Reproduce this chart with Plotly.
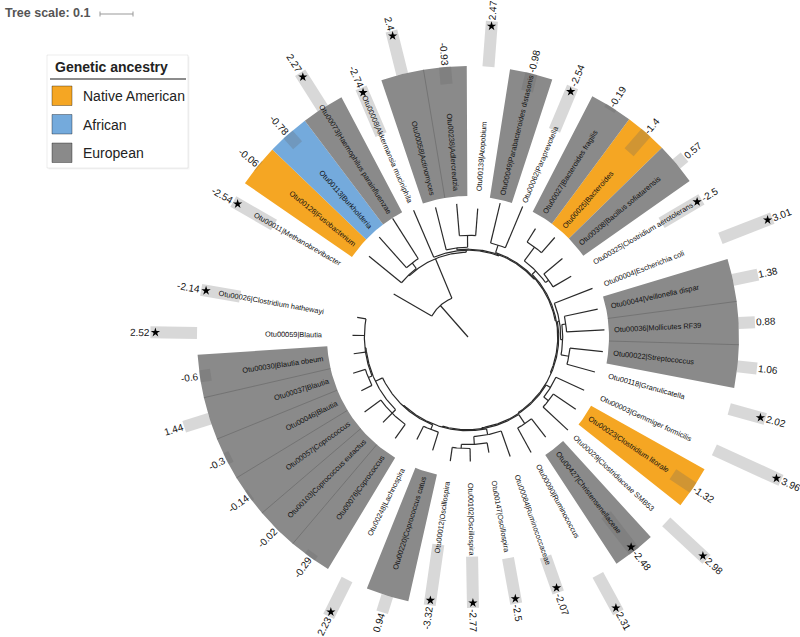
import math
import plotly.graph_objects as go

# ---------------- data ----------------
otu_ids = ["Otu00011", "Otu00128", "Otu00113", "Otu00073", "Otu00008", "Otu00058", "Otu00238",
           "Otu00139", "Otu00049", "Otu00062", "Otu00027", "Otu00025", "Otu00308", "Otu00325",
           "Otu00004", "Otu00044", "Otu00036", "Otu00022", "Otu00118", "Otu00003", "Otu00023",
           "Otu00029", "Otu00427", "Otu00090", "Otu00084", "Otu00147", "Otu00102", "Otu00012",
           "Otu00220", "Otu00248", "Otu00076", "Otu00103", "Otu00057", "Otu00046", "Otu00037",
           "Otu00030", "Otu00059", "Otu00026"]
otu_taxa = ["Methanobrevibacter", "Fusobacterium", "Burkholderia", "Haemophilus parainfluenzae",
            "Akkermansia muciniphila", "Actinomyces", "Adlercreutzia", "Atopobium",
            "Parabacteroides distasonis", "Paraprevotella", "Bacteroides fragilis", "Bacteroides",
            "Bacillus sofiatarensis", "Clostridium aerotolerans", "Escherichia coli",
            "Veillonella dispar", "Mollicutes RF39", "Streptococcus", "Granulicatella",
            "Gemmiger formicilis", "Clostridium litorale", "Clostridiaceae SMB53",
            "Christensenellaceae", "Ruminococcus", "Ruminococcaceae", "Oscillospira",
            "Oscillospira", "Oscillospira", "Coprococcus catus", "Lachnospira", "Coprococcus",
            "Coprococcus eutactus", "Coprococcus", "Blautia", "Blautia", "Blautia obeum",
            "Blautia", "Clostridium hathewayi"]
log_fc = [-2.54, -0.06, -0.78, 2.27, -2.74, 2.4, -0.93, 2.47, -0.98, -2.54, -0.19, -1.4, 0.57,
          -2.5, 3.01, 1.38, 0.88, 1.06, 2.02, 3.96, -1.32, 2.98, -2.48, 2.31, -2.07, -2.5, -2.77,
          -3.32, 0.94, 2.23, -0.29, -0.02, -0.14, -0.3, 1.44, -0.6, 2.52, -2.14]
significant = [1, 0, 0, 1, 1, 1, 0, 1, 0, 1, 0, 0, 0, 1, 1, 0, 0, 0, 1, 1, 0, 1, 1, 1, 1, 1, 1,
               1, 0, 1, 0, 0, 0, 0, 0, 0, 1, 1]
ancestry = ["", "Native American", "African", "European", "", "European", "European", "",
            "European", "", "European", "Native American", "European", "", "", "European",
            "European", "European", "", "", "Native American", "", "European", "", "", "", "",
            "", "European", "", "European", "European", "European", "European", "European",
            "European", "", ""]
ancestry_names = ["Native American", "African", "European"]
ancestry_colors = ["#F5A623", "#74AADC", "#8A8A8A"]
legend_title = "Genetic ancestry"
tree_scale_text = "Tree scale: 0.1"
tree_scale_value = 0.1

# tree topology with branch lengths (tree units)
clade_l9 = ("((Otu00220:0.058,Otu00248:0.045):0.015,((Otu00076:0.052,Otu00103:0.039,Otu00057:0.061):0.015,"
            "((Otu00046:0.036,Otu00037:0.039):0.012,Otu00030:0.036,Otu00059:0.036,Otu00026:0.027):0.003):0.024)")
clade_l8 = "((Otu00084:0.082,(Otu00147:0.030,(Otu00102:0.039,Otu00012:0.042):0.012):0.024):0.018," + clade_l9 + ":0.003)"
clade_l7 = "((Otu00427:0.070,Otu00090:0.085):0.033," + clade_l8 + ":0.003)"
clade_l6 = "((Otu00003:0.094,(Otu00023:0.082,Otu00029:0.103):0.018):0.015," + clade_l7 + ":0.003)"
clade_l5 = ("((Otu00004:0.124,((Otu00044:0.103,Otu00036:0.115):0.012,(Otu00022:0.100,Otu00118:0.088):0.024):0.006):0.006,"
            + clade_l6 + ":0.003)")
clade_l4 = "(((Otu00027:0.048,Otu00025:0.061):0.052,(Otu00308:0.073,Otu00325:0.064):0.012):0.015," + clade_l5 + ":0.003)"
clade_l3 = "((Otu00049:0.124,Otu00062:0.136):0.024," + clade_l4 + ":0.003)"
clade_l2 = "((Otu00058:0.133,(Otu00238:0.097,Otu00139:0.082):0.036):0.006," + clade_l3 + ":0.003)"
clade_l1 = "(Otu00008:0.155," + clade_l2 + ":0.003)"
clade_b = "((Otu00128:0.127,(Otu00113:0.124,Otu00073:0.145):0.021):0.003," + clade_l1 + ":0.006)"
tree_newick = "(Otu00011:0.133," + clade_b + ":0.130):0.127;"

# ---------------- layout parameters ----------------
CX, CY = 468, 337          # tree centre in page pixels
PX_PER_UNIT = 330          # tree scale: 0.1 -> 33 px
START_ANGLE = 150.0
STEP = 9.19
R_WEDGE_IN, R_WEDGE_OUT = 141, 271
R_LABEL = 146
R_BAR0, BAR_K, BAR_W = 271, 18.5, 12
FONT = "Liberation Sans, Arial, sans-serif"


def P(px, py):
    return px - CX, CY - py


def parse_newick(s):
    pos = 0

    def node():
        nonlocal pos
        n = {"children": [], "name": "", "len": 0.0}
        if s[pos] == "(":
            pos += 1
            while True:
                n["children"].append(node())
                if s[pos] == ",":
                    pos += 1
                    continue
                if s[pos] == ")":
                    pos += 1
                    break
        st = pos
        while pos < len(s) and s[pos] not in ":,();":
            pos += 1
        n["name"] = s[st:pos]
        if pos < len(s) and s[pos] == ":":
            pos += 1
            st = pos
            while s[pos] not in ",();":
                pos += 1
            n["len"] = float(s[st:pos])
        return n

    return node()


root = parse_newick(tree_newick)


def assign(n, r_parent):
    n["r"] = r_parent + n["len"] * PX_PER_UNIT
    if not n["children"]:
        i = otu_ids.index(n["name"])
        n["a"] = START_ANGLE - i * STEP
    else:
        for c in n["children"]:
            assign(c, n["r"])
        n["a"] = (n["children"][0]["a"] + n["children"][-1]["a"]) / 2


assign(root, 0.0)
leaf_angle = [START_ANGLE - i * STEP for i in range(len(otu_ids))]


def pol(r, a_deg):
    a = math.radians(a_deg)
    return r * math.cos(a), r * math.sin(a)


tx, ty = [], []


def draw(n, r_parent):
    x0, y0 = pol(r_parent, n["a"])
    x1, y1 = pol(n["r"], n["a"])
    tx.extend([x0, x1, None])
    ty.extend([y0, y1, None])
    if n["children"]:
        a0, a1 = n["children"][0]["a"], n["children"][-1]["a"]
        k = max(2, int(abs(a1 - a0) / 0.5))
        for j in range(k + 1):
            x, y = pol(n["r"], a0 + (a1 - a0) * j / k)
            tx.append(x)
            ty.append(y)
        tx.append(None)
        ty.append(None)
        for c in n["children"]:
            draw(c, n["r"])


draw(root, 0.0)

# text width estimate (Arial / Liberation Sans metrics)
W = {c: 0.556 for c in "0123456789"}
W.update({".": 0.278, "-": 0.333, "|": 0.26, " ": 0.278, "O": 0.778, "C": 0.722, "B": 0.667,
          "M": 0.833, "A": 0.667, "E": 0.667, "S": 0.667, "R": 0.722, "P": 0.667, "G": 0.778,
          "H": 0.722, "F": 0.611, "L": 0.556, "V": 0.667, "N": 0.722})
W.update(dict(zip("abcdefghijklmnopqrstuvwxyz",
                  [0.556, 0.556, 0.5, 0.556, 0.556, 0.278, 0.556, 0.556, 0.222, 0.222, 0.5, 0.222,
                   0.833, 0.556, 0.556, 0.556, 0.556, 0.333, 0.5, 0.278, 0.556, 0.5, 0.722, 0.5,
                   0.5, 0.5])))


def text_w(s, size):
    return sum(W.get(c, 0.556) for c in s) * size


def radial_text(s, r_start, a_deg, size, color="#1a1a1a"):
    w = text_w(s, size)
    x, y = pol(r_start + w / 2, a_deg)
    an = ((a_deg + 180) % 360) - 180
    if -90 <= an <= 90:
        ang = -an
    else:
        ang = 180 - an
    return dict(x=x, y=y, xref="x", yref="y", text=s, showarrow=False, textangle=ang,
                xanchor="center", yanchor="middle", font=dict(family=FONT, size=size, color=color))


fig = go.Figure()

# clade wedges
for name, col in zip(ancestry_names, ancestry_colors):
    wx, wy = [], []
    for i, anc in enumerate(ancestry):
        if anc != name:
            continue
        a = leaf_angle[i]
        a0, a1 = a - STEP / 2, a + STEP / 2
        pts = []
        for j in range(11):
            pts.append(pol(R_WEDGE_OUT, a0 + (a1 - a0) * j / 10))
        for j in range(11):
            pts.append(pol(R_WEDGE_IN, a1 - (a1 - a0) * j / 10))
        pts.append(pts[0])
        wx.extend([p[0] for p in pts] + [None])
        wy.extend([p[1] for p in pts] + [None])
    fig.add_trace(go.Scatter(x=wx, y=wy, mode="lines", fill="toself", fillcolor=col,
                             line=dict(width=0, color=col), hoverinfo="skip"))

# internal borders between neighbouring wedges of the same ancestry
bx, by = [], []
for i in range(len(ancestry) - 1):
    if ancestry[i] and ancestry[i] == ancestry[i + 1]:
        a = leaf_angle[i] - STEP / 2
        for r in (R_WEDGE_IN, R_WEDGE_OUT):
            x, y = pol(r, a)
            bx.append(x)
            by.append(y)
        bx.append(None)
        by.append(None)
fig.add_trace(go.Scatter(x=bx, y=by, mode="lines", line=dict(width=0.7, color="rgba(80,80,80,0.55)"),
                         hoverinfo="skip"))

# bars
barx, bary = [], []
sx, sy = [], []
annotations = []
for i, v in enumerate(log_fc):
    a = leaf_angle[i]
    r0, r1 = (R_BAR0, R_BAR0 + v * BAR_K) if v >= 0 else (R_BAR0 + v * BAR_K, R_BAR0)
    ar = math.radians(a)
    ux, uy = math.cos(ar), math.sin(ar)
    vx, vy = -uy, ux
    h = BAR_W / 2
    corners = [(r0 * ux + h * vx, r0 * uy + h * vy), (r1 * ux + h * vx, r1 * uy + h * vy),
               (r1 * ux - h * vx, r1 * uy - h * vy), (r0 * ux - h * vx, r0 * uy - h * vy)]
    corners.append(corners[0])
    barx.extend([c[0] for c in corners] + [None])
    bary.extend([c[1] for c in corners] + [None])
    if significant[i]:
        x, y = pol(r1 - 5, a)
        sx.append(x)
        sy.append(y)
    annotations.append(radial_text(f"{v:g}", r1 + 1, a, 10, "#111111"))
fig.add_trace(go.Scatter(x=barx, y=bary, mode="lines", fill="toself", fillcolor="rgba(100,100,100,0.25)",
                         line=dict(width=0), hoverinfo="skip"))
fig.add_trace(go.Scatter(x=sx, y=sy, mode="markers",
                         marker=dict(symbol="star", size=7, color="black", line=dict(width=0)),
                         hoverinfo="skip"))

# tree
fig.add_trace(go.Scatter(x=tx, y=ty, mode="lines", line=dict(width=1.2, color="#2a2a2a"),
                         hoverinfo="skip"))

# leaf labels
for i, (oid, tax) in enumerate(zip(otu_ids, otu_taxa)):
    annotations.append(radial_text(f"{oid}|{tax}", R_LABEL, leaf_angle[i], 7.4, "#111111"))

# tree scale
x0, y0 = P(100, 14)
x1, y1 = P(100 + tree_scale_value * PX_PER_UNIT, 14)
shapes = [
    dict(type="line", x0=x0, y0=y0, x1=x1, y1=y1, line=dict(color="#999", width=1)),
    dict(type="line", x0=x0, y0=y0 - 2.5, x1=x0, y1=y0 + 2.5, line=dict(color="#999", width=1)),
    dict(type="line", x0=x1, y0=y1 - 2.5, x1=x1, y1=y1 + 2.5, line=dict(color="#999", width=1)),
]
tx0, ty0 = P(3, 13)
annotations.append(dict(x=tx0, y=ty0, xref="x", yref="y", text=f"<b>{tree_scale_text}</b>",
                        showarrow=False, xanchor="left", yanchor="middle",
                        font=dict(family=FONT, size=12.5, color="#555")))

# legend box
bx0, by0 = P(47, 55)
bx1, by1 = P(188, 168)
shapes.append(dict(type="rect", x0=bx0 + 1.5, y0=by0 - 1.5, x1=bx1 + 1.5, y1=by1 - 1.5,
                   fillcolor="rgba(0,0,0,0.04)", line=dict(width=0)))
shapes.append(dict(type="rect", x0=bx0, y0=by0, x1=bx1, y1=by1, fillcolor="white",
                   line=dict(color="rgba(0,0,0,0.07)", width=1)))
ux0, uy0 = P(50, 79)
ux1, _ = P(186, 79)
shapes.append(dict(type="line", x0=ux0, y0=uy0, x1=ux1, y1=uy0, line=dict(color="#666", width=1.3)))
lx, ly = P(53, 67)
annotations.append(dict(x=lx, y=ly, xref="x", yref="y", text=f"<b>{legend_title}</b>", showarrow=False,
                        xanchor="left", yanchor="middle", font=dict(family=FONT, size=14, color="#222")))
sq_tops = [86, 114.5, 143]
for name, col, top in zip(ancestry_names, ancestry_colors, sq_tops):
    qx0, qy0 = P(52, top)
    qx1, qy1 = P(72, top + 19.5)
    shapes.append(dict(type="rect", x0=qx0, y0=qy0, x1=qx1, y1=qy1, fillcolor=col,
                       line=dict(color="rgba(0,0,0,0.35)", width=1)))
    ax_, ay_ = P(81, top + 10)
    annotations.append(dict(x=ax_, y=ay_, xref="x", yref="y", text=name, showarrow=False,
                            xanchor="left", yanchor="middle",
                            font=dict(family=FONT, size=14, color="#222")))

fig.update_layout(
    width=800, height=637, margin=dict(l=0, r=0, t=0, b=0),
    paper_bgcolor="white", plot_bgcolor="white", showlegend=False,
    xaxis=dict(range=[-CX, 800 - CX], visible=False, fixedrange=True),
    yaxis=dict(range=[CY - 637, CY], visible=False, fixedrange=True),
    shapes=shapes, annotations=annotations,
)
fig.write_html("out.html", config={"displayModeBar": False},
               post_script="document.body.style.margin='0';document.body.style.overflow='hidden';")
